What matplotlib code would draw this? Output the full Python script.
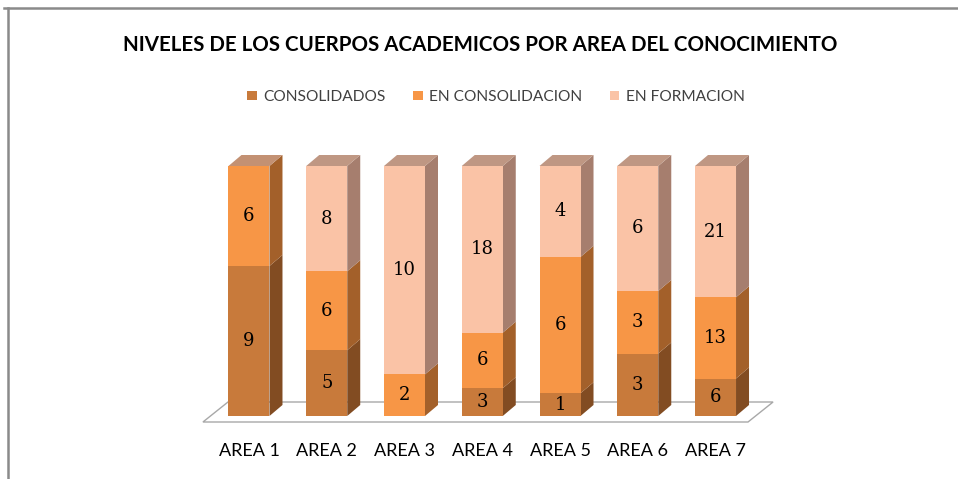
import numpy as np
import matplotlib.pyplot as plt
from matplotlib.patches import Polygon
from matplotlib.lines import Line2D

# data
areas = ["AREA 1", "AREA 2", "AREA 3", "AREA 4", "AREA 5", "AREA 6", "AREA 7"]
consolidados = [9, 5, 0, 3, 1, 3, 6]
en_consolidacion = [6, 6, 2, 6, 6, 3, 13]
en_formacion = [0, 8, 10, 18, 4, 6, 21]
series_names = ["CONSOLIDADOS", "EN CONSOLIDACION", "EN FORMACION"]

front_cols = ["#C87A3B", "#F79646", "#FAC3A6"]
side_cols = ["#824C22", "#A3602A", "#A67E6E"]
top_cols = ["#B88866", "#C39173", "#BF9783"]

plt.rcParams['font.family'] = ['Lato', 'DejaVu Sans']

fig = plt.figure(figsize=(9.58, 4.79), dpi=100)
fig.patch.set_facecolor("white")

W, H = 958, 479
# axes placed so that 0% -> y=416px, 100% -> y=166px
ax = fig.add_axes([210.1 / W, (H - 416) / H, 544.3 / W, 250 / H])
ax.set_xlim(-0.5, 6.5)
ax.set_ylim(0, 100)
ax.axis("off")

x = np.arange(len(areas))
data = np.array([consolidados, en_consolidacion, en_formacion], dtype=float)
totals = data.sum(axis=0)
pct = data / totals * 100

dx = 13 / 77.75   # depth in x units
dy = 4.4          # depth in percent units

# floor
floor = Polygon([(-0.592, -2.4), (6.418, -2.4), (6.74, 5.6), (-0.27, 5.6)],
                closed=True, facecolor="white", edgecolor="#A8A8A8", lw=1.0,
                zorder=1, clip_on=False)
ax.add_patch(floor)

bw = 41 / 77.75
bottom = np.zeros(len(areas))
bars = []
for k in range(3):
    b = ax.bar(x, pct[k], bw, bottom=bottom, color=front_cols[k],
               label=series_names[k], zorder=3, clip_on=False)
    bars.append(b)
    bottom = bottom + pct[k]

# sides, tops and labels
for k in range(3):
    for i, rect in enumerate(bars[k]):
        h = rect.get_height()
        if h <= 0:
            continue
        x0, y0 = rect.get_x(), rect.get_y()
        x1, y1 = x0 + rect.get_width(), y0 + h
        side = Polygon([(x1, y0), (x1 + dx, y0 + dy), (x1 + dx, y1 + dy), (x1, y1)],
                       closed=True, facecolor=side_cols[k], edgecolor="none",
                       zorder=2, clip_on=False)
        ax.add_patch(side)
        if abs(y1 - 100) < 1e-6:
            top = Polygon([(x0, y1), (x0 + dx, y1 + dy), (x1 + dx, y1 + dy), (x1, y1)],
                          closed=True, facecolor=top_cols[k], edgecolor="none",
                          zorder=2, clip_on=False)
            ax.add_patch(top)
        ax.text(x0 + rect.get_width() / 2, y0 + h / 2, str(int(data[k, i])),
                ha="center", va="center", fontsize=13, family="DejaVu Serif",
                color="black", zorder=5)

# category labels
for i, name in enumerate(areas):
    ax.text(x[i], -14, name, ha="center", va="center", fontsize=13,
            color="black", clip_on=False)

fig.text(0.501, 1 - 45 / H, "NIVELES DE LOS CUERPOS ACADEMICOS POR AREA DEL CONOCIMIENTO",
         ha="center", va="center", fontsize=14.8, fontweight="bold", color="black")

leg = fig.legend(handles=[b[0] for b in bars], labels=series_names, ncol=3,
                 loc="center", bbox_to_anchor=(496 / W, 1 - 97 / H), frameon=False,
                 fontsize=11.2, handlelength=0.6, handleheight=0.6, handletextpad=0.4,
                 columnspacing=1.8)
for t in leg.get_texts():
    t.set_color("#404040")

# outer border (top and left)
fig.add_artist(Line2D([4 / W, 1], [1 - 8 / H, 1 - 8 / H], color="#8A8A8A", lw=1.8,
                      transform=fig.transFigure))
fig.add_artist(Line2D([8 / W, 8 / W], [1 - 8 / H, 0], color="#8A8A8A", lw=1.8,
                      transform=fig.transFigure))

fig.savefig("out.png", dpi=100)
